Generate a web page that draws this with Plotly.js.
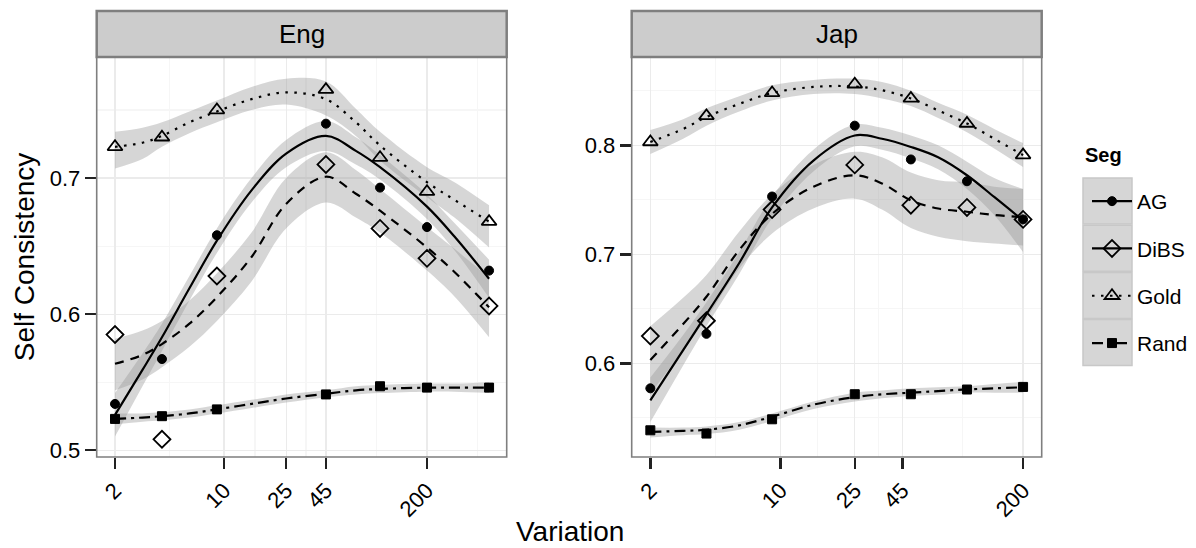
<!DOCTYPE html>
<html>
<head>
<meta charset="utf-8">
<script src="https://cdn.plot.ly/plotly-3.0.1.min.js"></script>
<style>html,body{margin:0;padding:0;background:#fff;}#chart{width:1196px;height:548px;}</style>
</head>
<body>
<div id="chart"></div>
<script>
// ---------- data ----------
const seriesNames = ["AG", "DiBS", "Gold", "Rand"];
const panelNames = ["Eng", "Jap"];
const legendTitle = "Seg";
const xTicks = [2, 10, 25, 45, 200];
const engYTicks = [0.5, 0.6, 0.7];
const japYTicks = [0.6, 0.7, 0.8];

// observed points
const engX = [2, 4, 9, 45, 100, 200, 500];
const engAG   = [0.534, 0.567, 0.658, 0.740, 0.693, 0.664, 0.632];
const engDiBS = [0.585, 0.508, 0.628, 0.710, 0.663, 0.641, 0.606];
const engGold = [0.723, 0.730, 0.750, 0.765, 0.715, 0.690, 0.668];
const engRand = [0.523, 0.525, 0.530, 0.541, 0.547, 0.546, 0.546];

const japX = [2, 4, 9, 25, 50, 100, 200];
const japAG   = [0.577, 0.627, 0.753, 0.818, 0.787, 0.767, 0.732];
const japDiBS = [0.625, 0.639, 0.741, 0.782, 0.745, 0.743, 0.732];
const japGold = [0.803, 0.827, 0.848, 0.856, 0.843, 0.820, 0.791];
const japRand = [0.5385, 0.5355, 0.5486, 0.5716, 0.5716, 0.5759, 0.5783];

// smoothed fits (loess) with confidence band
const engFitX = [2, 3, 4, 6, 9, 15, 25, 45, 70, 100, 200, 300, 500];
const engAGFit   = [0.526, 0.559, 0.583, 0.619, 0.654, 0.691, 0.718, 0.731, 0.720, 0.708, 0.679, 0.657, 0.626];
const engAGHi    = [0.542, 0.571, 0.593, 0.628, 0.663, 0.700, 0.728, 0.742, 0.730, 0.717, 0.688, 0.667, 0.640];
const engAGLo    = [0.510, 0.547, 0.573, 0.610, 0.645, 0.682, 0.708, 0.720, 0.710, 0.699, 0.670, 0.647, 0.612];
const engDiBSFit = [0.5635, 0.570, 0.578, 0.593, 0.6125, 0.642, 0.681, 0.701, 0.6885, 0.676, 0.649, 0.631, 0.605];
const engDiBSHi  = [0.582, 0.588, 0.595, 0.610, 0.630, 0.660, 0.700, 0.719, 0.706, 0.692, 0.664, 0.648, 0.627];
const engDiBSLo  = [0.544, 0.552, 0.561, 0.576, 0.595, 0.624, 0.663, 0.682, 0.671, 0.660, 0.632, 0.613, 0.583];
const engGoldFit = [0.723, 0.726, 0.731, 0.741, 0.749, 0.758, 0.763, 0.758, 0.741, 0.724, 0.697, 0.684, 0.668];
const engGoldHi  = [0.734, 0.737, 0.741, 0.749, 0.757, 0.767, 0.773, 0.771, 0.751, 0.734, 0.708, 0.697, 0.680];
const engGoldLo  = [0.707, 0.714, 0.723, 0.733, 0.741, 0.750, 0.754, 0.746, 0.731, 0.713, 0.686, 0.671, 0.649];
const engRandFit = [0.523, 0.524, 0.525, 0.527, 0.530, 0.534, 0.538, 0.5415, 0.544, 0.545, 0.546, 0.546, 0.546];
const engRandHi  = [0.527, 0.527, 0.528, 0.530, 0.533, 0.537, 0.541, 0.544, 0.547, 0.548, 0.549, 0.549, 0.550];
const engRandLo  = [0.519, 0.521, 0.522, 0.524, 0.527, 0.531, 0.535, 0.539, 0.541, 0.542, 0.543, 0.543, 0.542];

const japFitX = [2, 3, 4, 6, 9, 15, 25, 35, 50, 70, 100, 140, 200];
const japAGFit   = [0.566, 0.612, 0.645, 0.692, 0.743, 0.786, 0.809, 0.806, 0.7985, 0.789, 0.7725, 0.7526, 0.731];
const japAGHi    = [0.587, 0.626, 0.656, 0.702, 0.753, 0.796, 0.819, 0.816, 0.809, 0.800, 0.785, 0.770, 0.760];
const japAGLo    = [0.546, 0.598, 0.634, 0.682, 0.733, 0.776, 0.799, 0.796, 0.788, 0.778, 0.760, 0.736, 0.702];
const japDiBSFit = [0.603, 0.636, 0.661, 0.704, 0.737, 0.762, 0.7725, 0.765, 0.7495, 0.742, 0.739, 0.736, 0.734];
const japDiBSHi  = [0.634, 0.660, 0.681, 0.721, 0.755, 0.782, 0.794, 0.789, 0.775, 0.768, 0.766, 0.762, 0.760];
const japDiBSLo  = [0.572, 0.612, 0.641, 0.687, 0.719, 0.742, 0.751, 0.741, 0.724, 0.716, 0.712, 0.710, 0.708];
const japGoldFit = [0.803, 0.815, 0.826, 0.838, 0.848, 0.8535, 0.854, 0.8505, 0.843, 0.832, 0.820, 0.806, 0.791];
const japGoldHi  = [0.814, 0.824, 0.834, 0.845, 0.855, 0.860, 0.861, 0.858, 0.850, 0.839, 0.828, 0.815, 0.802];
const japGoldLo  = [0.792, 0.806, 0.818, 0.831, 0.841, 0.847, 0.847, 0.843, 0.836, 0.825, 0.812, 0.797, 0.780];
const japRandFit = [0.537, 0.538, 0.539, 0.543, 0.551, 0.562, 0.569, 0.5715, 0.573, 0.5745, 0.576, 0.577, 0.578];
const japRandHi  = [0.541, 0.541, 0.542, 0.546, 0.554, 0.565, 0.573, 0.575, 0.577, 0.578, 0.579, 0.581, 0.583];
const japRandLo  = [0.532, 0.534, 0.535, 0.539, 0.547, 0.558, 0.565, 0.568, 0.570, 0.571, 0.573, 0.573, 0.573];

// ---------- styling ----------
const FONT = "Liberation Sans, Arial, sans-serif";
const styles = {
  AG:   {dash: "solid",               symbol: "circle",           size: 9,  lw: 1},
  DiBS: {dash: "9px,7px",             symbol: "diamond-open",     size: 13, lw: 1.8},
  Gold: {dash: "2.5px,6.5px",         symbol: "triangle-up-open", size: 13, lw: 1.8},
  Rand: {dash: "11px,5px,3px,5px",    symbol: "square",           size: 9,  lw: 1}
};
const ribbonFill = "rgba(153,153,153,0.4)";

const panels = [
  {xa: "x", ya: "y", ptsX: engX, pts: {AG: engAG, DiBS: engDiBS, Gold: engGold, Rand: engRand},
   fitX: engFitX,
   fit: {AG: engAGFit, DiBS: engDiBSFit, Gold: engGoldFit, Rand: engRandFit},
   hi: {AG: engAGHi, DiBS: engDiBSHi, Gold: engGoldHi, Rand: engRandHi},
   lo: {AG: engAGLo, DiBS: engDiBSLo, Gold: engGoldLo, Rand: engRandLo}},
  {xa: "x2", ya: "y2", ptsX: japX, pts: {AG: japAG, DiBS: japDiBS, Gold: japGold, Rand: japRand},
   fitX: japFitX,
   fit: {AG: japAGFit, DiBS: japDiBSFit, Gold: japGoldFit, Rand: japRandFit},
   hi: {AG: japAGHi, DiBS: japDiBSHi, Gold: japGoldHi, Rand: japRandHi},
   lo: {AG: japAGLo, DiBS: japDiBSLo, Gold: japGoldLo, Rand: japRandLo}}
];

const traces = [];
// ribbons
panels.forEach(p => {
  seriesNames.forEach(s => {
    traces.push({type: "scatter", mode: "lines", x: p.fitX, y: p.lo[s], xaxis: p.xa, yaxis: p.ya,
      line: {width: 0, shape: "spline", color: "rgba(0,0,0,0)"}, showlegend: false, hoverinfo: "skip"});
    traces.push({type: "scatter", mode: "lines", x: p.fitX, y: p.hi[s], xaxis: p.xa, yaxis: p.ya,
      line: {width: 0, shape: "spline", color: "rgba(0,0,0,0)"}, fill: "tonexty", fillcolor: ribbonFill,
      showlegend: false, hoverinfo: "skip"});
  });
});
// fitted lines
panels.forEach(p => {
  seriesNames.forEach(s => {
    traces.push({type: "scatter", mode: "lines", x: p.fitX, y: p.fit[s], xaxis: p.xa, yaxis: p.ya,
      line: {width: 2.2, shape: "spline", color: "#000", dash: styles[s].dash}, showlegend: false, hoverinfo: "skip"});
  });
});
// points
panels.forEach(p => {
  seriesNames.forEach(s => {
    traces.push({type: "scatter", mode: "markers", x: p.ptsX, y: p.pts[s], xaxis: p.xa, yaxis: p.ya,
      marker: {symbol: styles[s].symbol, size: styles[s].size, color: "#000", line: {color: "#000", width: styles[s].lw}},
      showlegend: false, hoverinfo: "skip"});
  });
});
// legend entries
seriesNames.forEach(s => {
  traces.push({type: "scatter", mode: "lines+markers", name: s, x: [null], y: [null], xaxis: "x", yaxis: "y",
    legendgroup: s, showlegend: true,
    line: {width: 2.2, color: "#000", dash: (s === "AG" || s === "DiBS") ? "solid" : styles[s].dash},
    marker: {symbol: styles[s].symbol, size: styles[s].size, color: "#000", line: {color: "#000", width: styles[s].lw}}});
});

function geoMids(t) {
  const m = [];
  for (let i = 0; i < t.length - 1; i++) m.push(Math.sqrt(t[i] * t[i + 1]));
  m.push(t[t.length - 1] * Math.sqrt(t[t.length - 1] / t[t.length - 2]));
  return m;
}

const W = 1196, H = 548;
const panelTop = 57, panelBot = 457;
const yDom = [(H - panelBot) / H, (H - panelTop) / H];

const commonX = {
  type: "log", tickmode: "array", tickvals: xTicks, ticktext: xTicks.map(String),
  tickangle: -45, ticks: "outside", ticklen: 11, tickwidth: 2.5, tickcolor: "#222",
  tickfont: {family: FONT, size: 22, color: "#000"},
  showgrid: true, gridcolor: "#ebebeb", gridwidth: 1.2, zeroline: false, showline: false,
  minor: {tickmode: "array", tickvals: geoMids(xTicks), showgrid: true, gridcolor: "#f6f6f6", gridwidth: 1.2, ticks: ""},
  automargin: false, fixedrange: true
};
const commonY = {
  tickmode: "array", ticks: "outside", ticklen: 11, tickwidth: 2.5, tickcolor: "#222",
  tickfont: {family: FONT, size: 22, color: "#000"},
  showgrid: true, gridcolor: "#ebebeb", gridwidth: 1.2, zeroline: false, showline: false,
  minor: {dtick: 0.05, showgrid: true, gridcolor: "#f6f6f6", gridwidth: 1.2, ticks: ""},
  automargin: false, fixedrange: true
};

const x1Dom = [96.7 / W, 506.7 / W];
const x2Dom = [631.7 / W, 1041.7 / W];

const layout = {
  width: W, height: H,
  margin: {l: 0, r: 0, t: 0, b: 0, pad: 0},
  paper_bgcolor: "#fff", plot_bgcolor: "#fff",
  showlegend: true,
  font: {family: FONT, color: "#000"},
  xaxis: Object.assign({}, commonX, {domain: x1Dom, anchor: "y", range: [0.1837, 2.812]}),
  xaxis2: Object.assign({}, commonX, {domain: x2Dom, anchor: "y2", range: [0.201, 2.401]}),
  yaxis: Object.assign({}, commonY, {domain: yDom, anchor: "x", range: [0.495, 0.789], tickvals: engYTicks,
    ticktext: engYTicks.map(v => v.toFixed(1)),
    title: {text: "Self Consistency", font: {family: FONT, size: 28, color: "#000"}, standoff: 6}}),
  yaxis2: Object.assign({}, commonY, {domain: yDom, anchor: "x2", range: [0.514, 0.881], tickvals: japYTicks,
    ticktext: japYTicks.map(v => v.toFixed(1))}),
  legend: {
    x: 1087 / W, xanchor: "left", y: (H - 181) / H, yanchor: "top",
    bgcolor: "rgba(0,0,0,0)", borderwidth: 0,
    font: {family: FONT, size: 21, color: "#000"},
    traceorder: "grouped", tracegroupgap: 17, itemwidth: 40
  },
  annotations: [
    {text: panelNames[0], xref: "x domain", yref: "paper", x: 0.5, y: (H - 34) / H, showarrow: false,
     font: {family: FONT, size: 26, color: "#000"}, xanchor: "center", yanchor: "middle"},
    {text: panelNames[1], xref: "x2 domain", yref: "paper", x: 0.5, y: (H - 34) / H, showarrow: false,
     font: {family: FONT, size: 26, color: "#000"}, xanchor: "center", yanchor: "middle"},
    {text: "Variation", xref: "paper", yref: "paper", x: 570 / W, y: (H - 531) / H, showarrow: false,
     font: {family: FONT, size: 28, color: "#000"}, xanchor: "center", yanchor: "middle"},
    {text: "<b>" + legendTitle + "</b>", xref: "paper", yref: "paper", x: 1083 / W, y: (H - 155) / H, showarrow: false,
     font: {family: FONT, size: 20, color: "#000"}, xanchor: "left", yanchor: "middle"}
  ],
  shapes: []
};

// strips and panel borders
[["x", "y"], ["x2", "y2"]].forEach(([xa, ya]) => {
  layout.shapes.push({type: "rect", xref: xa + " domain", yref: "paper", x0: 0, x1: 1,
    y0: (H - panelTop) / H, y1: (H - 11) / H, fillcolor: "#cccccc", line: {color: "#7f7f7f", width: 2.5}, layer: "above"});
  layout.shapes.push({type: "rect", xref: xa + " domain", yref: ya + " domain", x0: 0, x1: 1, y0: 0, y1: 1,
    fillcolor: "rgba(0,0,0,0)", line: {color: "#7f7f7f", width: 1.6}, layer: "above"});
});
// legend key backgrounds
for (let i = 0; i < seriesNames.length; i++) {
  const top = 178 + i * 47.2;
  layout.shapes.push({type: "rect", xref: "paper", yref: "paper", x0: 1083 / W, x1: 1132 / W,
    y0: (H - (top + 46)) / H, y1: (H - top) / H, fillcolor: "#d6d6d6", line: {color: "#c8c8c8", width: 1.5}, layer: "below"});
}

Plotly.newPlot("chart", traces, layout, {staticPlot: true, displayModeBar: false});
</script>
</body>
</html>
